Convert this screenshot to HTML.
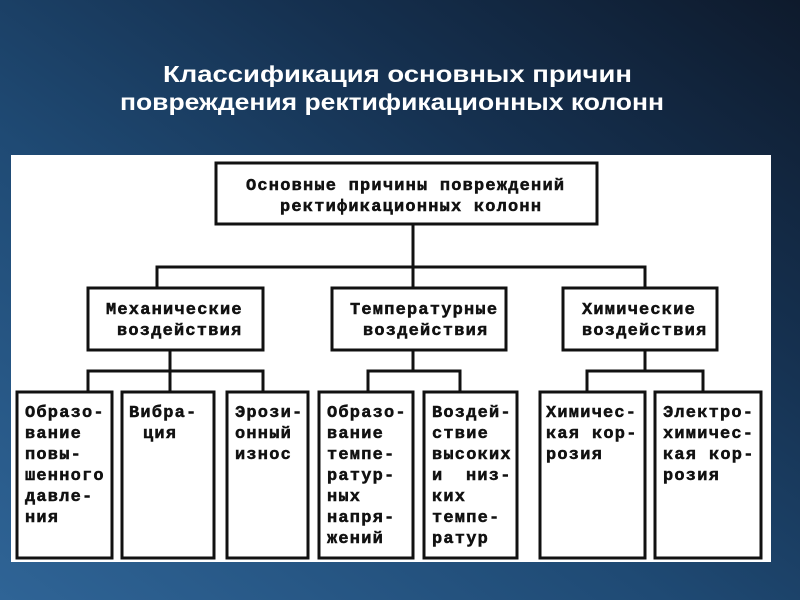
<!DOCTYPE html>
<html><head><meta charset="utf-8"><style>
html,body{margin:0;padding:0;width:800px;height:600px;overflow:hidden}
body{background:linear-gradient(35deg,#2f6496 0%,#1f4a74 40%,#15304f 70%,#0e1a2c 100%)}
svg{position:absolute;left:0;top:0}
.t{font-family:"Liberation Sans",sans-serif;font-weight:bold;font-size:23px;fill:#fff}
.m{font-family:"Liberation Mono",monospace;font-weight:bold;font-size:17px;letter-spacing:1.2px;fill:#111;stroke:#111;stroke-width:0.5px}
</style></head><body>
<svg width="800" height="600" viewBox="0 0 800 600">
<text class="t" x="163" y="82" textLength="469" lengthAdjust="spacingAndGlyphs">Классификация основных причин</text>
<text class="t" x="120" y="110" textLength="544" lengthAdjust="spacingAndGlyphs">повреждения ректификационных колонн</text>
<rect x="11" y="155" width="760" height="407" fill="#fff"/>
<g stroke="#111" stroke-width="3" fill="none">
<rect x="216" y="163" width="381" height="61"/>
<rect x="88" y="288" width="175" height="62"/>
<rect x="332" y="288" width="174" height="62"/>
<rect x="563" y="288" width="154" height="62"/>
<rect x="17" y="392" width="95" height="166"/>
<rect x="122" y="392" width="92" height="166"/>
<rect x="227" y="392" width="81" height="166"/>
<rect x="319" y="392" width="94" height="166"/>
<rect x="424" y="392" width="93" height="166"/>
<rect x="540" y="392" width="105" height="166"/>
<rect x="655" y="392" width="106" height="166"/>
<path d="M413 224V288M157 288V267H645V288"/>
<path d="M170 350V371M88 392V371H263V392M170 371V392"/>
<path d="M413 350V371M368 392V371H460V392"/>
<path d="M645 350V371M587 392V371H703V392"/>
</g>
<g class="m">
<text x="246" y="190">Основные причины повреждений</text>
<text x="280" y="211">ректификационных колонн</text>
<text x="106" y="314">Механические</text>
<text x="117" y="335">воздействия</text>
<text x="350" y="314">Температурные</text>
<text x="363" y="335">воздействия</text>
<text x="582" y="314">Химические</text>
<text x="582" y="335">воздействия</text>
<text x="25" y="417">Образо-</text><text x="25" y="438">вание</text><text x="25" y="459">повы-</text><text x="25" y="480">шенного</text><text x="25" y="501">давле-</text><text x="25" y="522">ния</text>
<text x="129" y="417">Вибра-</text><text x="143" y="438">ция</text>
<text x="235" y="417">Эрози-</text><text x="235" y="438">онный</text><text x="235" y="459">износ</text>
<text x="327" y="417">Образо-</text><text x="327" y="438">вание</text><text x="327" y="459">темпе-</text><text x="327" y="480">ратур-</text><text x="327" y="501">ных</text><text x="327" y="522">напря-</text><text x="327" y="543">жений</text>
<text x="432" y="417">Воздей-</text><text x="432" y="438">ствие</text><text x="432" y="459">высоких</text><text x="432" y="480">и</text><text x="466" y="480">низ-</text><text x="432" y="501">ких</text><text x="432" y="522">темпе-</text><text x="432" y="543">ратур</text>
<text x="546" y="417">Химичес-</text><text x="546" y="438">кая</text><text x="592" y="438">кор-</text><text x="546" y="459">розия</text>
<text x="663" y="417">Электро-</text><text x="663" y="438">химичес-</text><text x="663" y="459">кая</text><text x="709" y="459">кор-</text><text x="663" y="480">розия</text>
</g>
</svg>
</body></html>
